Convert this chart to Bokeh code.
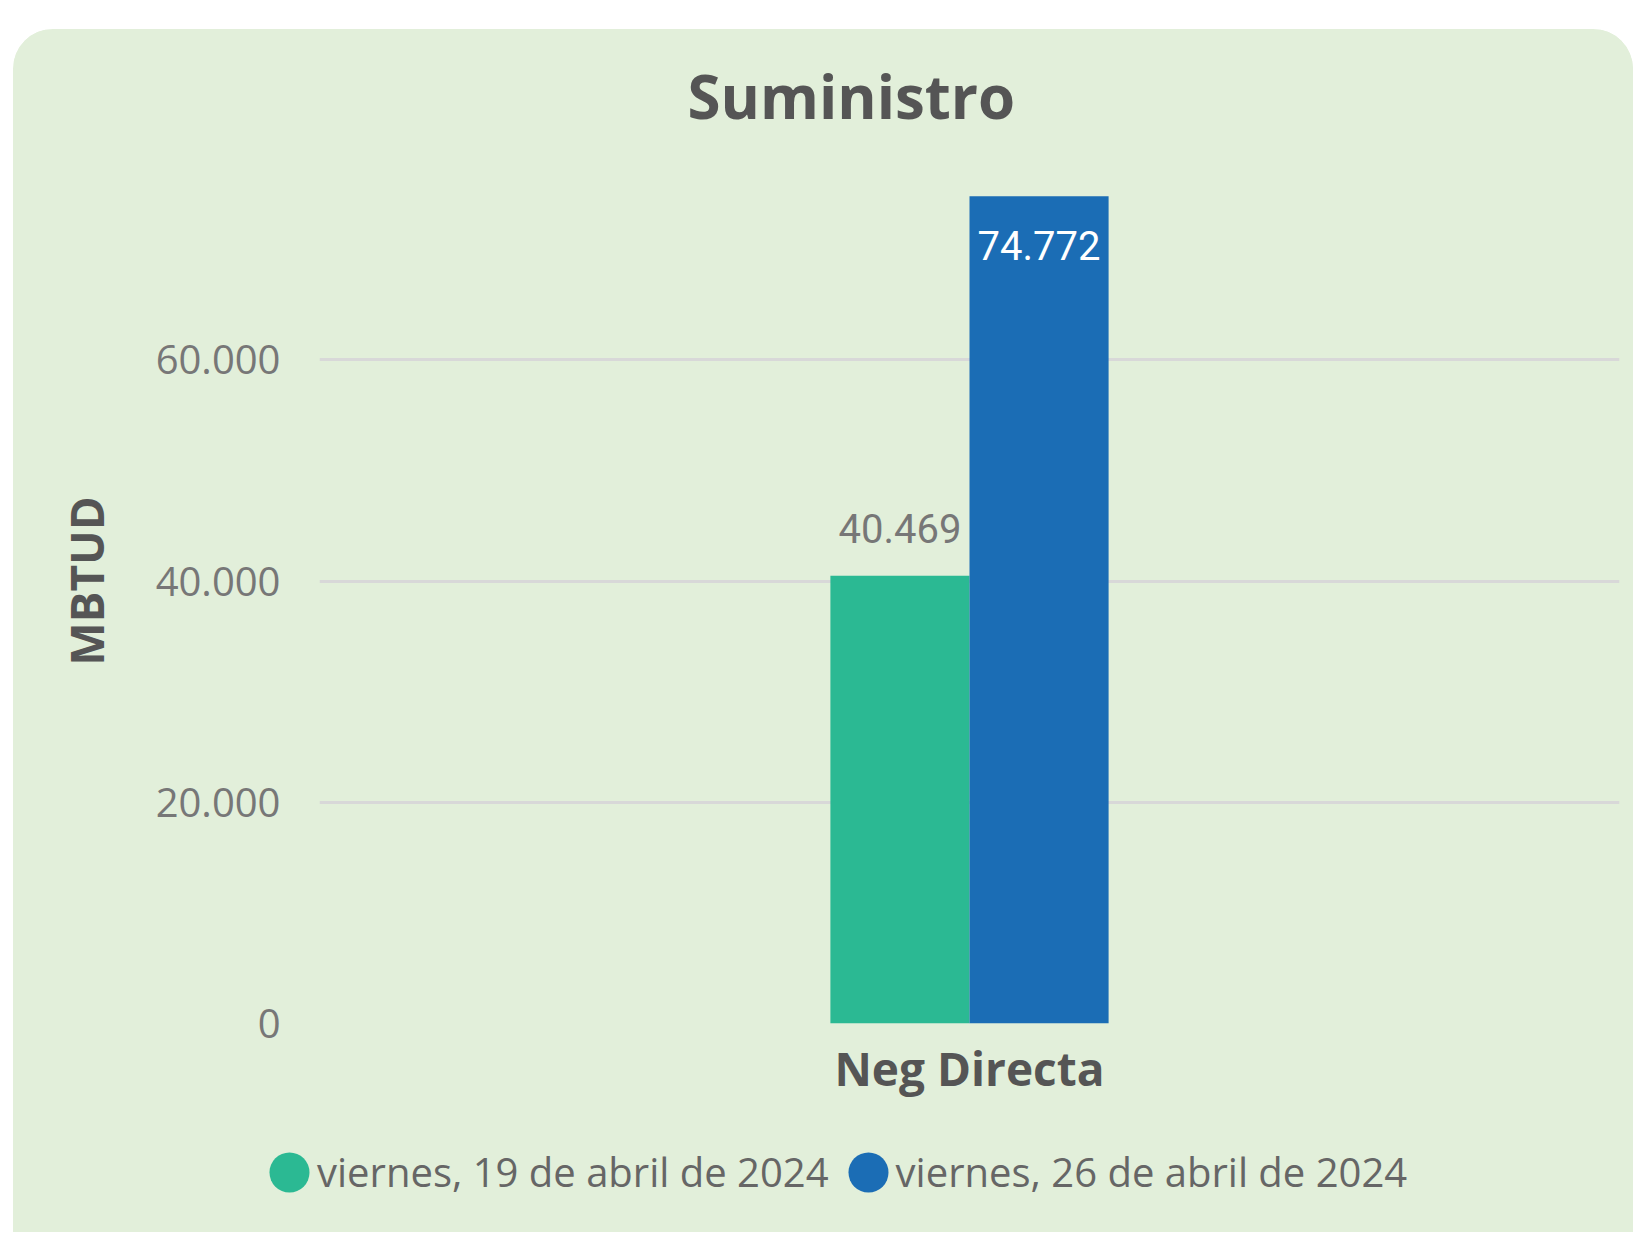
from bokeh.plotting import figure
from bokeh.models import (ColumnDataSource, FactorRange, Range1d, FixedTicker, LabelSet,
                          Legend, LegendItem, Spacer)
from bokeh.layouts import column, row
from bokeh.transform import dodge
from bokeh.core.properties import value
from bokeh.embed import file_html
from bokeh.resources import INLINE

# ---- data ----
categories = ["Neg Directa"]
series_names = ["viernes, 19 de abril de 2024", "viernes, 26 de abril de 2024"]
series_1 = [40469]
series_2 = [74772]
y_ticks = [0, 20000, 40000, 60000]

colors = ["#2BB993", "#1B6DB5"]
BG = "#E2EFDA"

def fmt(v):
    return f"{v:,}".replace(",", ".")

src = ColumnDataSource(dict(
    cat=categories,
    s1=series_1, s2=series_2,
    l1=[fmt(v) for v in series_1], l2=[fmt(v) for v in series_2],
))

W = 1620
H_MAIN = 1084
H_LEG = 119

p = figure(
    width=W, height=H_MAIN,
    x_range=FactorRange(*categories, range_padding=0),
    y_range=Range1d(0, 80000),
    output_backend="svg", toolbar_location=None,
    min_border_left=306, min_border_right=14, min_border_top=109, min_border_bottom=90,
)
p.background_fill_color = BG
p.border_fill_color = BG
p.outline_line_color = None
p.styles = {"border-radius": "40px 40px 0 0", "overflow": "hidden", "background-color": BG}

# title
p.title.text = "Suministro"
p.title.text_font = "Open Sans"
p.title.text_font_size = "60px"
p.title.text_font_style = "bold"
p.title.text_color = "#555555"
p.title.align = "left"
p.title.offset = 368
p.title.standoff = 4

bw = 0.107
r1 = p.vbar(x=dodge("cat", -bw / 2, range=p.x_range), top="s1", width=bw,
            fill_color=colors[0], line_color=None, source=src)
r2 = p.vbar(x=dodge("cat", bw / 2, range=p.x_range), top="s2", width=bw,
            fill_color=colors[1], line_color=None, source=src)

lab1 = LabelSet(x=dodge("cat", -bw / 2, range=p.x_range), y="s1", text="l1", source=src,
                text_align="center", text_baseline="middle", y_offset=47,
                text_font=value("Roboto"), text_font_size="40px", text_color="#777777")
lab2 = LabelSet(x=dodge("cat", bw / 2, range=p.x_range), y="s2", text="l2", source=src,
                text_align="center", text_baseline="middle", y_offset=-49,
                text_font=value("Roboto"), text_font_size="40px", text_color="#FFFFFF")
p.add_layout(lab1)
p.add_layout(lab2)

# axes
p.yaxis.ticker = FixedTicker(ticks=y_ticks)
p.yaxis.major_label_overrides = {t: fmt(t) for t in y_ticks}
p.yaxis.axis_line_color = None
p.yaxis.major_tick_line_color = None
p.yaxis.minor_tick_line_color = None
p.yaxis.major_label_text_font = "Open Sans"
p.yaxis.major_label_text_font_size = "40px"
p.yaxis.major_label_text_color = "#777777"
p.yaxis.major_label_standoff = 33
p.yaxis.axis_label = "MBTUD"
p.yaxis.axis_label_text_font = "Open Sans"
p.yaxis.axis_label_text_font_size = "46px"
p.yaxis.axis_label_text_font_style = "bold"
p.yaxis.axis_label_text_color = "#555555"
p.yaxis.axis_label_standoff = 36

p.xaxis.axis_line_color = None
p.xaxis.major_tick_line_color = None
p.xaxis.minor_tick_line_color = None
p.xaxis.major_label_text_font = "Open Sans"
p.xaxis.major_label_text_font_size = "46px"
p.xaxis.major_label_text_font_style = "bold"
p.xaxis.major_label_text_color = "#555555"
p.xaxis.major_label_standoff = 7

p.xgrid.grid_line_color = None
p.ygrid.grid_line_color = "#D8D8D8"
p.ygrid.grid_line_width = 3

# legend strip: its own figure (series swatches bound to the data, off-frame)
q = figure(width=W, height=H_LEG, x_range=p.x_range, y_range=Range1d(-2, -1),
           output_backend="svg", toolbar_location=None,
           min_border=0, min_border_left=0, min_border_right=0,
           min_border_top=0, min_border_bottom=0)
q.axis.visible = False
q.grid.visible = False
q.background_fill_color = BG
q.border_fill_color = BG
q.outline_line_color = None
q.styles = {"background-color": BG}

e1 = q.ellipse(x="cat", y="s1", width=40, height=40, width_units="screen", height_units="screen",
               fill_color=colors[0], line_color=None, source=src)
e2 = q.ellipse(x="cat", y="s2", width=40, height=40, width_units="screen", height_units="screen",
               fill_color=colors[1], line_color=None, source=src)
legend = Legend(
    items=[LegendItem(label=series_names[0], renderers=[e1]),
           LegendItem(label=series_names[1], renderers=[e2])],
    orientation="horizontal", location=(251, 33),
    glyph_width=50, glyph_height=50, label_standoff=3, spacing=14,
    padding=0, margin=0, border_line_color=None, background_fill_alpha=0,
    label_text_font="Open Sans", label_text_font_size="40px", label_text_color="#666666",
)
q.add_layout(legend)

layout = column(Spacer(height=29), row(Spacer(width=13), p), row(Spacer(width=13), q))
open("out.html", "w").write(file_html(layout, INLINE))
